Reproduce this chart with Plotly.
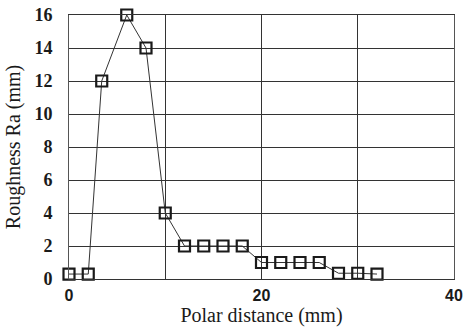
import plotly.graph_objects as go

polar_distance = [0, 2, 3.4, 6, 8, 10, 12, 14, 16, 18, 20, 22, 24, 26, 28, 30, 32]
roughness_ra = [0.3, 0.3, 12, 16, 14, 4, 2, 2, 2, 2, 1, 1, 1, 1, 0.35, 0.35, 0.3]
x_tickvals = [0, 10, 20, 30, 40]
x_ticktext = ["0", "", "20", "", "40"]
y_tickvals = [0, 2, 4, 6, 8, 10, 12, 14, 16]

fig = go.Figure()
fig.add_trace(go.Scatter(
    x=polar_distance, y=roughness_ra, mode="lines+markers",
    line=dict(color="#333333", width=1),
    marker=dict(symbol="square-open", size=11, color="#1a1a1a", line=dict(width=2.2, color="#1a1a1a")),
    cliponaxis=False, showlegend=False,
))

serif = "Liberation Serif, Times New Roman, serif"
sans = "Liberation Sans, Arial, sans-serif"
fig.update_layout(
    width=463, height=330,
    margin=dict(l=69, r=9, t=15, b=51),
    paper_bgcolor="white", plot_bgcolor="white",
    font=dict(family=serif, color="#1a1a1a"),
)
fig.update_xaxes(
    range=[0, 40], tickvals=x_tickvals, ticktext=x_ticktext,
    showgrid=True, gridcolor="#333333", gridwidth=1,
    showline=True, linecolor="#333333", mirror=True, linewidth=1,
    zeroline=False, ticks="", ticklabelstandoff=2, automargin=False,
    ticklabeloverflow="allow",
    tickfont=dict(size=16, family=sans, weight="bold", color="#1a1a1a"),
    title=dict(text="Polar distance (mm)", font=dict(size=20, family=serif, color="#1a1a1a"), standoff=0),
)
fig.update_yaxes(
    range=[0, 16], tickvals=y_tickvals,
    showgrid=True, gridcolor="#333333", gridwidth=1,
    showline=True, linecolor="#555555", mirror=True, linewidth=1,
    zeroline=False, ticks="", ticklabelstandoff=12, automargin=False,
    tickfont=dict(size=18, family=serif, weight="bold", color="#1a1a1a"),
    title=dict(text="Roughness Ra (mm)", font=dict(size=20, family=serif, color="#1a1a1a"), standoff=8),
)

fig.write_html("out.html", post_script="document.body.style.margin='0';",
               config={"displayModeBar": False})
